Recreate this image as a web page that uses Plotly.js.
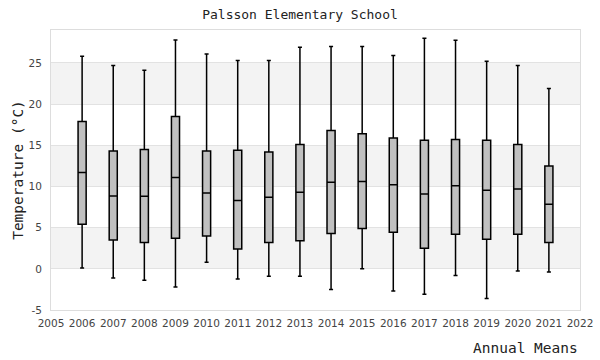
<!DOCTYPE html>
<html>
<head>
<meta charset="utf-8">
<script src="https://cdn.plot.ly/plotly-3.0.1.min.js"></script>
<style>html,body{margin:0;padding:0;background:#fff;}#chart{width:600px;height:360px;}</style>
</head>
<body>
<div id="chart"></div>
<script>
const years = [2006,2007,2008,2009,2010,2011,2012,2013,2014,2015,2016,2017,2018,2019,2020,2021];
const lowerWhisker = [0.1,-1.1,-1.4,-2.2,0.8,-1.25,-0.9,-0.9,-2.5,0.0,-2.7,-3.1,-0.8,-3.6,-0.25,-0.4];
const q1Values     = [5.4,3.5,3.2,3.7,4.0,2.4,3.2,3.4,4.3,4.9,4.45,2.5,4.2,3.6,4.2,3.2];
const medianValues = [11.7,8.85,8.8,11.1,9.2,8.3,8.7,9.3,10.5,10.6,10.2,9.1,10.1,9.55,9.7,7.85];
const q3Values     = [17.9,14.3,14.5,18.5,14.3,14.4,14.2,15.1,16.8,16.4,15.9,15.6,15.7,15.6,15.1,12.5];
const upperWhisker = [25.8,24.7,24.1,27.8,26.1,25.3,25.3,26.9,27.0,27.0,25.9,28.0,27.75,25.2,24.7,21.9];
const yTicks = [-5,0,5,10,15,20,25];
const xTicks = [2005,2006,2007,2008,2009,2010,2011,2012,2013,2014,2015,2016,2017,2018,2019,2020,2021,2022];
const bandRanges = [[0,5],[10,15],[20,25]];

const trace = {
  type: 'box',
  x: years,
  q1: q1Values,
  median: medianValues,
  q3: q3Values,
  lowerfence: lowerWhisker,
  upperfence: upperWhisker,
  width: 0.26,
  whiskerwidth: 1.1,
  fillcolor: '#c0c0c0',
  line: {color: '#000000', width: 1.5},
  hoverinfo: 'skip',
  showlegend: false
};

const shapes = bandRanges.map(b => ({
  type: 'rect', xref: 'paper', yref: 'y', x0: 0, x1: 1, y0: b[0], y1: b[1],
  fillcolor: '#f3f3f3', line: {width: 0}, layer: 'below'
}));

const mono = 'DejaVu Sans Mono, monospace';
const layout = {
  width: 600, height: 360,
  margin: {l: 51, r: 20, t: 30, b: 50},
  paper_bgcolor: '#ffffff',
  plot_bgcolor: '#ffffff',
  title: {text: 'Palsson Elementary School', font: {family: mono, size: 13, color: '#222'}, x: 0.5, xanchor: 'center', y: 0.96, yanchor: 'middle'},
  xaxis: {
    range: [2005, 2022], tickvals: xTicks, ticktext: xTicks.map(String),
    showgrid: false, zeroline: false, showline: true, mirror: true,
    linecolor: '#dddddd', linewidth: 1,
    ticks: 'outside', ticklen: 3, tickcolor: 'rgba(0,0,0,0)',
    tickfont: {family: 'DejaVu Sans, sans-serif', size: 10.5, color: '#444'}
  },
  yaxis: {
    range: [-5, 29], tickvals: yTicks, ticktext: yTicks.map(String),
    showgrid: true, gridcolor: '#e2e2e2', gridwidth: 1, zeroline: false,
    showline: true, mirror: true, linecolor: '#dddddd', linewidth: 1,
    ticks: 'outside', ticklen: 6, tickcolor: 'rgba(0,0,0,0)',
    tickfont: {family: 'DejaVu Sans, sans-serif', size: 10.5, color: '#444'},
    title: {text: 'Temperature (°C)', font: {family: mono, size: 14.5, color: '#222'}, standoff: 1}
  },
  shapes: shapes,
  annotations: [{
    text: 'Annual Means', xref: 'paper', yref: 'paper', x: 1, y: 0, xanchor: 'right', yanchor: 'top',
    yshift: -28, showarrow: false, font: {family: mono, size: 14.5, color: '#222'}
  }]
};

Plotly.newPlot('chart', [trace], layout, {staticPlot: true, displayModeBar: false});
</script>
</body>
</html>
